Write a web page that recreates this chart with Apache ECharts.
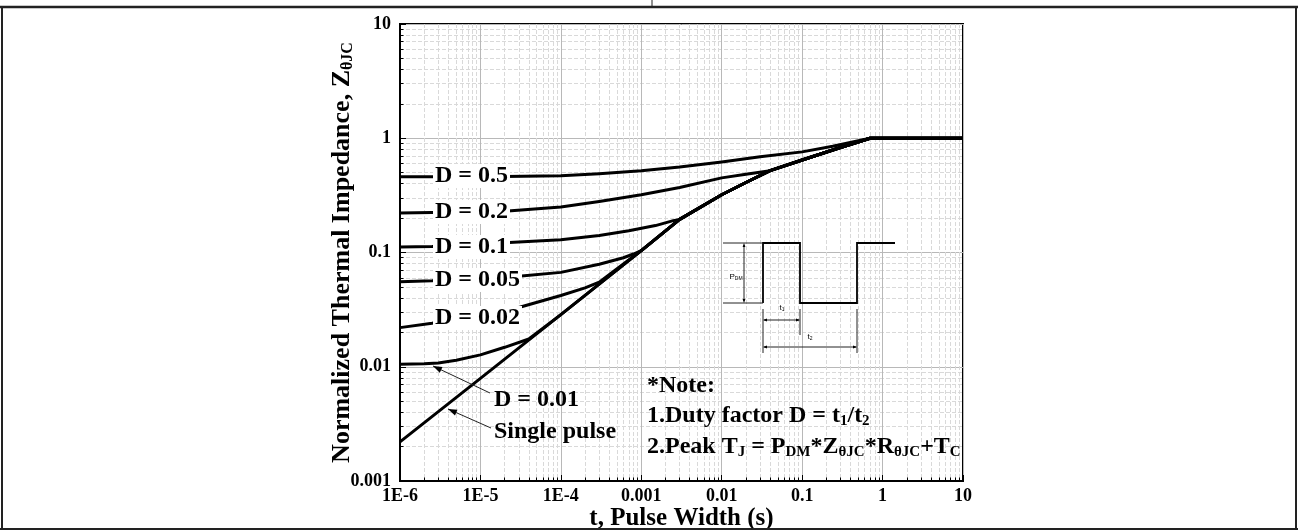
<!DOCTYPE html>
<html>
<head>
<meta charset="utf-8">
<script src="https://cdn.jsdelivr.net/npm/echarts@6/dist/echarts.min.js"></script>
<style>
html, body { margin: 0; padding: 0; background: #fff; }
#main { width: 1298px; height: 530px; }
</style>
</head>
<body>
<div id="main"></div>
<script>
// pulse width t (s) -> normalized thermal impedance
var tSingle = [1e-6, 1e-5, 1e-4, 1e-3, 3e-3, 1e-2, 2e-2, 4e-2, 1e-1, 3e-1, 7e-1, 10];
var zSingle = [0.0022, 0.0079, 0.0286, 0.104, 0.195, 0.32, 0.41, 0.52, 0.645, 0.83, 1.0, 1.0];

var tD001 = [1e-6, 2e-6, 3e-6, 5e-6, 1e-5, 2e-5, 4e-5];
var zD001 = [0.0105, 0.0106, 0.0108, 0.0114, 0.0127, 0.0148, 0.0175];

var tD002 = [1e-6, 2.5e-6, 3e-5, 1e-4, 2e-4, 3e-4];
var zD002 = [0.022, 0.024, 0.033, 0.042, 0.049, 0.055];

var tD005 = [1e-6, 2.5e-6, 3e-5, 1e-4, 3e-4, 6e-4, 8e-4];
var zD005 = [0.0555, 0.0565, 0.062, 0.067, 0.079, 0.09, 0.097];

var tD01 = [1e-6, 2.5e-6, 2e-5, 1e-4, 3e-4, 7e-4, 1.5e-3, 2.5e-3];
var zD01 = [0.112, 0.113, 0.122, 0.129, 0.141, 0.155, 0.172, 0.19];

var tD02 = [1e-6, 2.5e-6, 2e-5, 1e-4, 3e-4, 1e-3, 3e-3, 1e-2, 2e-2];
var zD02 = [0.222, 0.224, 0.23, 0.25, 0.28, 0.32, 0.37, 0.45, 0.485];

var tD05 = [1e-6, 2.5e-6, 2e-5, 1e-4, 3e-4, 1e-3, 3e-3, 1e-2, 3e-2, 1e-1, 2.4e-1, 5e-1];
var zD05 = [0.46, 0.46, 0.462, 0.47, 0.49, 0.52, 0.56, 0.62, 0.69, 0.76, 0.85, 0.95];

var serif = 'Liberation Serif';

// duty curves run into the single pulse curve once they meet it
function curve(t, z) {
  var pts = t.map(function (v, i) { return [v, z[i]]; });
  var last = t[t.length - 1];
  for (var i = 0; i < tSingle.length; i++) {
    if (tSingle[i] > last) pts.push([tSingle[i], zSingle[i]]);
  }
  return pts;
}

function line(name, data) {
  return {
    name: name,
    type: 'line',
    data: data,
    showSymbol: false,
    smooth: false,
    lineStyle: { color: '#000', width: 3, join: 'round' },
    z: 3
  };
}

function decade(v) {
  var e = Math.round(Math.log10(v));
  return Math.pow(10, e).toFixed(Math.max(0, -e));
}

function arrowHead(x1, y1, x2, y2, size) {
  var a = Math.atan2(y2 - y1, x2 - x1);
  var w = size * 0.35;
  var bx = x2 - size * Math.cos(a), by = y2 - size * Math.sin(a);
  return {
    type: 'polygon',
    shape: { points: [[x2, y2], [bx + w * Math.sin(a), by - w * Math.cos(a)], [bx - w * Math.sin(a), by + w * Math.cos(a)]] },
    style: { fill: '#000' },
    z: 20
  };
}

function thin(x1, y1, x2, y2, w) {
  return {
    type: 'line',
    shape: { x1: x1, y1: y1, x2: x2, y2: y2 },
    style: { stroke: '#222', lineWidth: w || 1 },
    z: 20
  };
}

var bigFont = 'bold 24px "Liberation Serif"';

function dLabel(txt, x, y) {
  return {
    type: 'text',
    x: x, y: y,
    style: {
      text: txt, fill: '#000', font: bigFont,
      verticalAlign: 'middle', backgroundColor: '#fff', padding: [0, 2, 0, 2]
    },
    z: 20
  };
}

var subBig = { fontFamily: serif, fontWeight: 'bold', fontSize: 15, padding: [11, 0, 0, 0] };
var mainBig = { fontFamily: serif, fontWeight: 'bold', fontSize: 24 };
var tiny = { fontFamily: 'Liberation Sans', fontSize: 8, fill: '#000' };
var tinySub = { fontFamily: 'Liberation Sans', fontSize: 5, padding: [4, 0, 0, 0] };

var graphics = [
  // page frame
  thin(0, 7, 1298, 7, 2.5),
  thin(652, 0, 652, 7, 1),
  thin(2, 7, 2, 530, 2),
  thin(1296, 7, 1296, 530, 2),
  thin(0, 529, 1298, 529, 2),

  dLabel('D = 0.5', 433, 176),
  dLabel('D = 0.2', 433, 212),
  dLabel('D = 0.1', 433, 247),
  dLabel('D = 0.05', 433, 280),
  dLabel('D = 0.02', 433, 318),
  {
    type: 'text', x: 494, y: 400, z: 20,
    style: { text: 'D = 0.01', fill: '#000', font: bigFont, verticalAlign: 'middle' }
  },
  {
    type: 'text', x: 494, y: 432, z: 20,
    style: { text: 'Single pulse', fill: '#000', font: bigFont, verticalAlign: 'middle' }
  },
  thin(490, 393, 433, 366, 1),
  arrowHead(490, 393, 433, 366, 9),
  thin(491, 428, 448, 409, 1),
  arrowHead(491, 428, 448, 409, 9),

  // notes
  {
    type: 'text', x: 647, y: 386, z: 20,
    style: { text: '*Note:', fill: '#000', font: bigFont, verticalAlign: 'middle' }
  },
  {
    type: 'text', x: 647, y: 416, z: 20,
    style: {
      text: '{n|1.Duty factor D = t}{s|1}{n|/t}{s|2}', fill: '#000', verticalAlign: 'middle',
      rich: { n: mainBig, s: subBig }
    }
  },
  {
    type: 'text', x: 647, y: 447, z: 20,
    style: {
      text: '{n|2.Peak T}{s|J}{n| = P}{s|DM}{n|*Z}{s|θJC}{n|*R}{s|θJC}{n|+T}{s|C}', fill: '#000', verticalAlign: 'middle',
      rich: { n: mainBig, s: subBig }
    }
  },

  // pulse sketch
  {
    type: 'polyline', z: 20,
    shape: { points: [[763, 303], [763, 243], [800, 243], [800, 303], [857, 303], [857, 243], [895, 243]] },
    style: { stroke: '#000', lineWidth: 1.8, fill: null }
  },
  thin(723, 243, 763, 243),
  thin(723, 303, 763, 303),
  thin(744, 245, 744, 301),
  arrowHead(744, 260, 744, 243, 4),
  arrowHead(744, 286, 744, 303, 4),
  {
    type: 'text', x: 736, y: 277, z: 20,
    style: { text: '{p|P}{q|DM}', align: 'center', verticalAlign: 'middle', rich: { p: tiny, q: tinySub } }
  },
  thin(763, 309, 763, 353),
  thin(800, 309, 800, 335),
  thin(857, 309, 857, 353),
  thin(764, 320, 799, 320),
  arrowHead(780, 320, 763, 320, 4),
  arrowHead(783, 320, 800, 320, 4),
  thin(764, 347, 856, 347),
  arrowHead(790, 347, 763, 347, 4),
  arrowHead(830, 347, 857, 347, 4),
  {
    type: 'text', x: 782, y: 308, z: 20,
    style: { text: '{p|t}{q|1}', align: 'center', verticalAlign: 'middle', rich: { p: tiny, q: tinySub } }
  },
  {
    type: 'text', x: 810, y: 337, z: 20,
    style: { text: '{p|t}{q|2}', align: 'center', verticalAlign: 'middle', rich: { p: tiny, q: tinySub } }
  }
];

var chart = echarts.init(document.getElementById('main'));
chart.setOption({
  animation: false,
  backgroundColor: '#fff',
  grid: {
    left: 400, top: 24, right: 335, bottom: 49,
    containLabel: false,
    outerBoundsMode: 'none',
    show: true, borderColor: '#000', borderWidth: 2, backgroundColor: 'transparent'
  },
  xAxis: {
    type: 'log',
    logBase: 10,
    min: 1e-6,
    max: 10,
    splitNumber: 7,
    name: 't, Pulse Width (s)',
    nameLocation: 'middle',
    nameGap: 25,
    nameMoveOverlap: false,
    nameTextStyle: { fontFamily: serif, fontWeight: 'bold', fontSize: 25, color: '#000' },
    axisLine: { onZero: false, lineStyle: { color: '#000', width: 2 } },
    axisTick: { inside: true, length: 6, lineStyle: { color: '#000' } },
    minorTick: { show: true, splitNumber: 9, length: 3.5, lineStyle: { color: '#000' } },
    axisLabel: {
      margin: 6, color: '#000', fontFamily: serif, fontWeight: 'bold', fontSize: 18,
      formatter: function (v) {
        var e = Math.round(Math.log10(v));
        return e <= -4 ? '1E' + e : decade(v);
      }
    },
    splitLine: { show: true, lineStyle: { color: '#b8b8b8', width: 1 } },
    minorSplitLine: { show: true, lineStyle: { color: '#d9d9d9', type: 'dashed', width: 1 } }
  },
  yAxis: {
    type: 'log',
    logBase: 10,
    min: 0.001,
    max: 10,
    splitNumber: 4,
    name: 'Normalized Thermal Impedance, Z{s|θJC}',
    nameLocation: 'middle',
    nameGap: 44,
    nameMoveOverlap: false,
    nameTextStyle: {
      fontFamily: serif, fontWeight: 'bold', fontSize: 26, color: '#000',
      rich: { s: { fontFamily: serif, fontWeight: 'bold', fontSize: 16, padding: [11, 0, 0, 0] } }
    },
    axisLine: { onZero: false, lineStyle: { color: '#000', width: 2 } },
    axisTick: { inside: true, length: 6, lineStyle: { color: '#000' } },
    minorTick: { show: true, splitNumber: 9, length: 3.5, lineStyle: { color: '#000' } },
    axisLabel: {
      margin: 9, color: '#000', fontFamily: serif, fontWeight: 'bold', fontSize: 18,
      formatter: decade
    },
    splitLine: { show: true, lineStyle: { color: '#b8b8b8', width: 1 } },
    minorSplitLine: { show: true, lineStyle: { color: '#d9d9d9', type: 'dashed', width: 1 } }
  },
  series: [
    line('Single pulse', curve(tSingle, zSingle)),
    line('D = 0.01', curve(tD001, zD001)),
    line('D = 0.02', curve(tD002, zD002)),
    line('D = 0.05', curve(tD005, zD005)),
    line('D = 0.1', curve(tD01, zD01)),
    line('D = 0.2', curve(tD02, zD02)),
    line('D = 0.5', curve(tD05, zD05))
  ],
  graphic: graphics
});
</script>
</body>
</html>
